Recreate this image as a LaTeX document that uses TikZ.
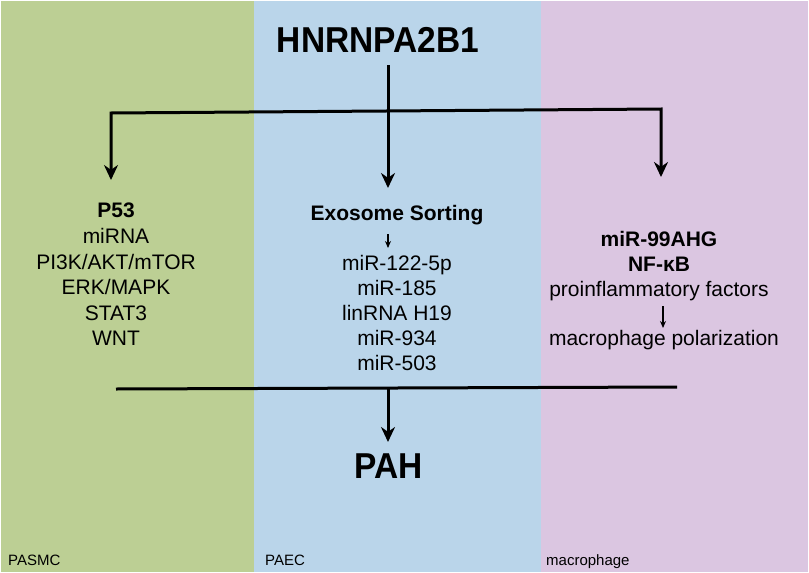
\documentclass[tikz,border=0pt]{standalone}
\usepackage{graphicx}
\usepackage{fontspec}
\setmainfont{Liberation Sans}
\usetikzlibrary{arrows.meta}
\definecolor{pasmc}{RGB}{188,207,148}
\definecolor{paec}{RGB}{186,213,234}
\definecolor{macro}{RGB}{219,198,225}
\begin{document}
\begin{tikzpicture}[x=1pt,y=-1pt,
  big/.style={font=\bfseries\fontsize{36}{40}\selectfont, inner sep=0pt, anchor=base},
  item/.style={font=\fontsize{21}{25}\selectfont, inner sep=0pt, anchor=base},
  bitem/.style={font=\bfseries\fontsize{21}{25}\selectfont, inner sep=0pt, anchor=base},
  lab/.style={font=\fontsize{15}{18}\selectfont, inner sep=0pt, anchor=base west},
  main/.style={line width=3pt},
  bighead/.style={-{Stealth[length=15pt,width=14pt]}},
  marrow/.style={main, bighead},
  sarrow/.style={line width=1.2pt, -{Stealth[length=7pt,width=6pt]}}]
\useasboundingbox (0,0) rectangle (809,573);
\fill[white] (0,0) rectangle (809,573);
\fill[pasmc] (1,1) rectangle (254,572);
\fill[paec] (254,1) rectangle (541,572);
\fill[macro] (541,1) rectangle (808,572);

% title
\node[big] (title) at (378,52) {\scalebox{0.93}[1]{HNRNPA2B1}};
\coordinate (t0) at (388,65);
\coordinate (m1tip) at (388,188);
\draw[marrow] (t0) -- (m1tip);

% top bar with side arrows
\coordinate (bl) at (111,113);
\coordinate (br) at (661,109);
\coordinate (l1tip) at (111,180);
\coordinate (r1tip) at (661,177);
\draw[main, {Stealth[length=15pt,width=14pt]}-{Stealth[length=15pt,width=14pt]}] (l1tip) -- (bl) -- (br) -- (r1tip);

% left column (PASMC)
\node[bitem] (p53) at (116,217) {P53};
\node[item] (mirna) at (116,243) {miRNA};
\node[item] (pi3k) at (116,269) {PI3K/AKT/mTOR};
\node[item] (erk) at (116,294) {ERK/MAPK};
\node[item] (stat3) at (116,320) {STAT3};
\node[item] (wnt) at (116,345) {WNT};

% middle column (PAEC)
\node[bitem] (exo) at (397,220) {Exosome Sorting};
\coordinate (sa1) at (388,234);
\coordinate (sa2) at (388,248);
\draw[sarrow] (sa1) -- (sa2);
\node[item] (m122) at (397,270) {miR-122-5p};
\node[item] (m185) at (397,295) {miR-185};
\node[item] (h19) at (397,320) {linRNA H19};
\node[item] (m934) at (397,345) {miR-934};
\node[item] (m503) at (397,370) {miR-503};

% right column (macrophage)
\node[bitem] (m99) at (659,246) {miR-99AHG};
\node[bitem] (nfkb) at (659,271) {NF-κB};
\node[item] (proinf) at (659,296) {proinflammatory factors};
\coordinate (sb1) at (663,306);
\coordinate (sb2) at (663,328);
\draw[sarrow] (sb1) -- (sb2);
\node[item] (polar) at (664,345) {macrophage polarization};

% bottom bar and PAH
\coordinate (cl) at (116,389);
\coordinate (cr) at (677,387);
\draw[main] (cl) -- (cr);
\coordinate (cm) at (388,388);
\coordinate (pahtip) at (388,442);
\draw[marrow] (cm) -- (pahtip);
\node[big] (pah) at (389,478) {\scalebox{0.93}[1]{PAH}};

% cell-type labels
\node[lab] (lpasmc) at (8,565) {PASMC};
\node[lab] (lpaec) at (265,565) {PAEC};
\node[lab] (lmacro) at (546,565) {macrophage};
\end{tikzpicture}
\end{document}
